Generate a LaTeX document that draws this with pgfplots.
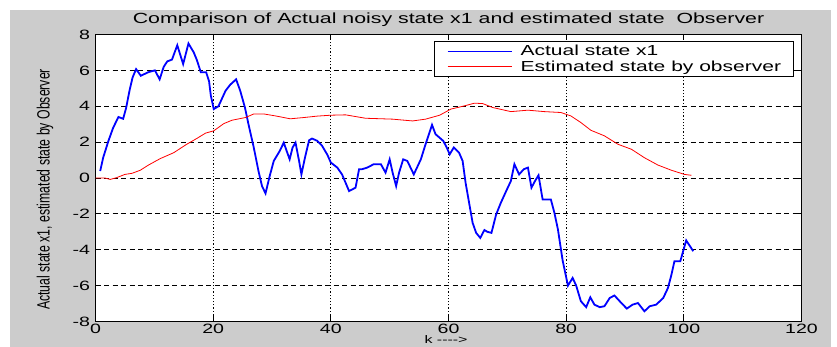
\documentclass[border=0pt]{standalone}
\usepackage{fontspec}
\setmainfont{Liberation Sans}[FakeStretch=1.45]
\newfontfamily\ylabfont{Liberation Sans}[FakeStretch=0.69]
\usepackage{pgfplots}
\pgfplotsset{compat=1.18}
\definecolor{figgray}{RGB}{204,204,204}
\begin{document}
\begin{tikzpicture}
\useasboundingbox (0,0) rectangle (837pt,347pt);
\clip (0,0) rectangle (837pt,347pt);
\fill[white] (0,0) rectangle (837pt,347pt);
\fill[figgray] (10pt,0) rectangle (831pt,337pt);
\begin{axis}[
  at={(95.5pt,25.5pt)}, anchor=south west,
  scale only axis, width=706pt, height=287pt,
  xmin=0, xmax=120, ymin=-8, ymax=8,
  xtick={0,20,...,120}, ytick={-8,-6,...,8},
  axis background/.style={fill=white},
  axis line style={black, line width=1pt},
  tick align=inside, major tick length=6pt,
  every tick/.style={black, line width=0.8pt},
  grid=major,
  x grid style={black, line width=1.1pt, dash pattern=on 1.2pt off 2pt},
  y grid style={black, line width=0.8pt, dash pattern=on 5pt off 3.5pt},
  /pgf/number format/assume math mode=true,
  ticklabel style={font=\fontsize{13.5}{15}\selectfont},
  xticklabel style={inner sep=1pt, yshift=-1.5pt},
  yticklabel style={xshift=-2pt},
  title={Comparison of Actual noisy state x1 and estimated state\ \ Observer},
  title style={font=\fontsize{14.7}{17}\selectfont, at={(axis description cs:0.5,1)}, anchor=base, yshift=4.5pt},
  xlabel={k -{}-{}-{}-{}>},
  xlabel style={font=\fontsize{11}{12}\selectfont, at={(axis description cs:0.4965,0)}, anchor=north, inner sep=0pt, yshift=-14pt},
  ylabel={Actual state x1, estimated state by Observer},
  ylabel style={font=\fontsize{17.8}{20}\selectfont\ylabfont, at={(axis description cs:-0.0715,0.46)}, anchor=center},
  legend style={at={(axis description cs:0.9894,0.9774)}, anchor=north east,
    draw=black, line width=0.8pt, fill=white, inner xsep=12.5pt, inner ysep=4pt,
    row sep=3.5pt, nodes={inner sep=0pt}, font=\fontsize{14.5}{17}\selectfont},
  legend cell align=left,
  legend image code/.code={\draw[#1, line width=0.8pt] (0pt,0pt) -- (64pt,0pt); \path (72pt,0pt);},
]
\addplot[blue, line width=1.8pt] coordinates {
(0.8,0.39)(1.3,1.13)(2.2,2.07)(3,2.8)(3.9,3.4)(4.7,3.3)(5.2,3.9)(5.8,4.9)(6.3,5.6)(6.9,6.07)(7.7,5.7)(9,5.9)(10.1,6.0)(10.9,5.5)(11.6,6.2)(12.2,6.5)(13,6.6)(13.9,7.4)(14.9,6.35)(15.8,7.5)(16.7,7.0)(17.2,6.6)(17.9,5.9)(18.8,5.9)(19.3,5.4)(19.6,4.6)(20.1,3.84)(20.9,4.0)(22.1,4.86)(22.9,5.2)(23.9,5.5)(24.6,4.86)(25.4,3.93)(26,3.0)(26.9,1.7)(27.7,0.39)(28.3,-0.45)(28.9,-0.86)(29.6,0.1)(30.3,0.95)(31.3,1.5)(32,1.97)(32.5,1.5)(33,1.04)(33.5,1.7)(34,1.97)(34.6,0.95)(35,0.2)(35.6,1.13)(36.3,2.1)(36.8,2.2)(37.7,2.07)(38.5,1.8)(39.4,1.3)(40,0.86)(41.1,0.58)(41.9,0.2)(42.5,-0.26)(43.1,-0.73)(44.2,-0.54)(44.8,0.49)(45.3,0.49)(46.2,0.58)(47.3,0.77)(48.5,0.77)(49.3,0.3)(50,1.04)(50.5,0.3)(51.1,-0.45)(51.6,0.3)(52.3,1.04)(53,0.95)(54.1,0.2)(55.3,1.04)(56.1,1.88)(57.2,2.96)(57.8,2.44)(59.1,2.07)(59.7,1.7)(60.2,1.32)(60.9,1.7)(61.8,1.41)(62.4,0.95)(62.9,-0.26)(63.5,-1.38)(64.1,-2.5)(64.7,-3.06)(65.4,-3.34)(66.1,-2.9)(66.6,-3.0)(67.3,-3.06)(68.1,-2.03)(68.9,-1.38)(69.8,-0.73)(70.6,-0.17)(71.2,0.77)(72,0.2)(72.8,0.49)(73.5,0.58)(74.1,-0.54)(74.7,-0.17)(75.3,0.15)(76,-1.2)(77.4,-1.2)(78,-1.94)(78.6,-2.87)(79.4,-4.6)(80.3,-6.0)(81.1,-5.57)(81.7,-6.0)(82.5,-6.87)(83.4,-7.2)(84.1,-6.65)(84.8,-7.06)(85.7,-7.2)(86.5,-7.15)(87.4,-6.69)(88.2,-6.55)(89.1,-6.87)(90.3,-7.28)(91.3,-7.06)(92.2,-6.97)(93.3,-7.43)(94.2,-7.15)(95.3,-7.06)(96.5,-6.69)(97.3,-6.13)(97.9,-5.38)(98.4,-4.64)(99.4,-4.64)(100.4,-3.48)(101.6,-4.08)
};
\addlegendentry{Actual state x1}
\addplot[red, line width=0.8pt] coordinates {
(0,0)(1.6,0)(2.5,-0.08)(3.6,0.02)(5,0.2)(6.2,0.26)(7.6,0.43)(9,0.72)(11,1.08)(13.3,1.41)(15.5,1.88)(17.2,2.2)(18.7,2.5)(20.1,2.63)(21.8,3.03)(23.2,3.22)(25.5,3.37)(26.9,3.57)(28.6,3.57)(30.6,3.46)(33.1,3.3)(35.4,3.37)(37.7,3.45)(40,3.5)(42.5,3.52)(45.9,3.33)(50.5,3.28)(53.9,3.18)(56.1,3.28)(58.5,3.5)(60.4,3.84)(62.7,4.02)(64.4,4.17)(65.8,4.15)(67.5,3.93)(70.6,3.7)(73.5,3.78)(76.3,3.7)(79.1,3.65)(80.8,3.46)(82.5,3.09)(84.2,2.66)(86.5,2.35)(88.8,1.88)(91.1,1.6)(93.3,1.13)(95.6,0.72)(97.9,0.43)(100.1,0.2)(101.3,0.15)
};
\addlegendentry{Estimated state by observer}
\end{axis}
\end{tikzpicture}
\end{document}
